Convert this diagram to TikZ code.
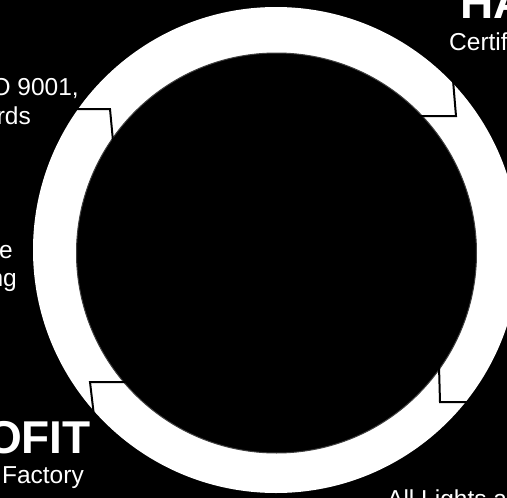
\documentclass[tikz,border=0pt]{standalone}
\usepackage{fontspec}
\setmainfont{Liberation Sans}
\begin{document}
\begin{tikzpicture}[x=1pt,y=-1pt,
  joint/.style={draw=black,line width=2pt,miter limit=10},
  lbl/.style={text=white,inner sep=0pt,font=\fontsize{24.5}{28}\selectfont},
  head/.style={text=white,inner sep=0pt,font=\bfseries\fontsize{46}{50}\selectfont}]
\fill[black] (0,0) rectangle (507,498);
\useasboundingbox (0,0) rectangle (507,498);
% ring
\coordinate (oc) at (276,250);
\coordinate (ic) at (276.5,253);
\fill[white] (oc) circle (243pt);
\draw[fill=black,draw=black!75,line width=1pt] (ic) circle (200pt);
% joints between arrow segments
\coordinate (j1a) at (74,109); \coordinate (j1b) at (110,109); \coordinate (j1c) at (113,141);
\coordinate (j2a) at (453,80); \coordinate (j2b) at (456,116); \coordinate (j2c) at (420,116);
\coordinate (j3a) at (439,366); \coordinate (j3b) at (440,402); \coordinate (j3c) at (470,402);
\coordinate (j4a) at (126,382); \coordinate (j4b) at (90,382); \coordinate (j4c) at (94,416);
\draw[joint] (j1a) -- (j1b) -- (j1c);
\draw[joint] (j2a) -- (j2b) -- (j2c);
\draw[joint] (j3a) -- (j3b) -- (j3c);
\draw[joint] (j4a) -- (j4b) -- (j4c);
% labels
\node[head,anchor=base west] (h1) at (460,18) {HASSLE};
\node[lbl,anchor=base west] (c1) at (449,50) {Certified};
\node[lbl,anchor=base east] (l1) at (79,95) {ISO 9001,};
\node[lbl,anchor=base east] (l2) at (31,124) {standards};
\node[lbl,anchor=base east] (l3) at (13,258) {the};
\node[lbl,anchor=base east] (l4) at (17,286) {packaging};
\node[head,anchor=base east] (h2) at (91,453) {PROFIT};
\node[lbl,anchor=base east] (c2) at (84,483) {the Factory};
\node[lbl,anchor=base west] (l5) at (387,507) {All Lights are};
\end{tikzpicture}
\end{document}
